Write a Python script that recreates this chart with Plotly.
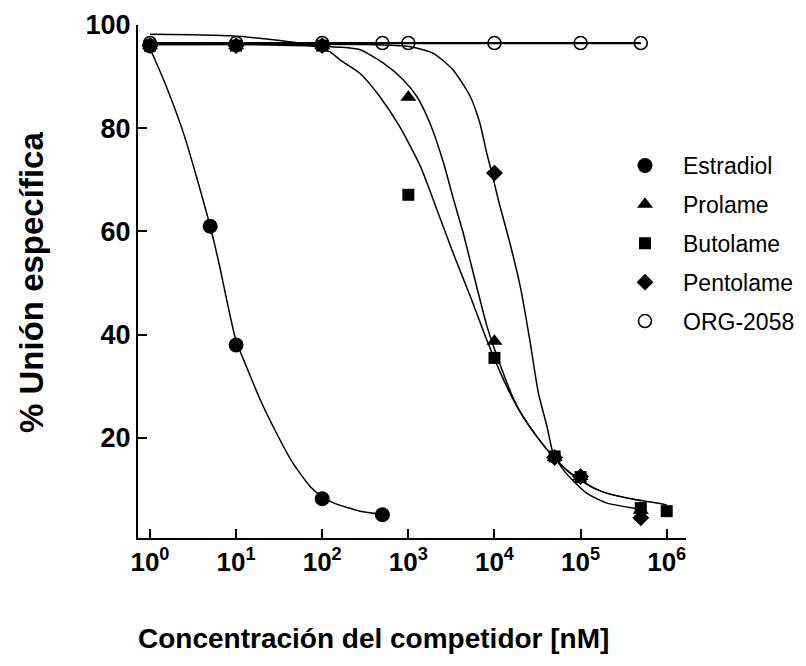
import plotly.graph_objects as go

# ---------------- measured data points ----------------
estradiol_x = [1, 5, 10, 100, 500]
estradiol_y = [96.0, 61.0, 38.0, 8.2, 5.1]

prolame_x = [1, 10, 100, 1000, 10000, 50000, 100000, 500000]
prolame_y = [96.0, 96.0, 96.0, 86.0, 38.7, 16.2, 12.5, 6.0]

butolame_x = [1, 10, 100, 1000, 10000, 50000, 100000, 500000, 1000000]
butolame_y = [96.0, 96.0, 96.0, 67.1, 35.5, 16.4, 12.4, 6.4, 5.8]

pentolame_x = [1, 10, 100, 10000, 50000, 100000, 500000]
pentolame_y = [96.0, 96.0, 96.0, 71.3, 16.2, 12.5, 4.5]

org_x = [1, 10, 100, 500, 1000, 10000, 100000, 500000]
org_y = [96.5, 96.5, 96.5, 96.5, 96.5, 96.5, 96.5, 96.5]

# ---------------- fitted curves (log10 conc., %) ----------------
estradiol_fit_logx = [0.0, 0.19, 0.39, 0.54, 0.70, 0.81, 0.89, 1.0, 1.12, 1.28, 1.47, 1.66, 1.86, 2.0, 2.13, 2.44, 2.69]
estradiol_fit_y = [95.5, 88.1, 79.0, 70.6, 60.9, 53.2, 46.8, 38.8, 33.8, 27.4, 20.9, 15.1, 10.6, 8.6, 7.4, 5.8, 5.2]

butolame_fit_logx = [0.0, 0.5, 0.93, 1.51, 1.78, 2.09, 2.21, 2.44, 2.67, 2.90, 3.14, 3.29, 3.52, 3.72, 3.91,
                     4.07, 4.20, 4.30, 4.49, 4.68, 4.85, 5.0, 5.15, 5.30, 5.65, 5.92, 6.0]
butolame_fit_y = [98.2, 98.1, 97.9, 97.0, 96.4, 94.8, 93.2, 90.6, 86.1, 80.3, 72.6, 66.1, 55.8, 47.4, 39.0,
                  32.6, 28.0, 25.0, 20.3, 16.4, 13.6, 11.8, 10.3, 9.3, 8.0, 7.3, 7.0]

prolame_fit_logx = [0.0, 1.0, 1.8, 2.2, 2.44, 2.71, 2.94, 3.10, 3.25, 3.41, 3.52, 3.64, 3.72, 3.91, 4.03,
                    4.22, 4.30, 4.49, 4.68, 4.85, 5.0, 5.15, 5.30, 5.70]
prolame_fit_y = [96.2, 96.2, 96.0, 95.7, 95.2, 92.6, 89.4, 86.1, 81.0, 73.2, 66.5, 59.5, 54.2, 41.8, 35.8,
                 27.6, 25.0, 20.3, 16.4, 13.6, 11.8, 10.3, 9.3, 7.8]

pentolame_fit_logx = [0.0, 2.5, 3.02, 3.29, 3.52, 3.72, 3.83, 3.91, 3.97, 4.05, 4.18, 4.30, 4.41, 4.51, 4.61,
                      4.68, 4.80, 4.92, 5.07, 5.30, 5.61, 5.70]
pentolame_fit_y = [96.2, 96.2, 95.8, 94.5, 91.3, 86.1, 81.0, 75.2, 71.3, 65.8, 57.7, 49.3, 39.0, 28.7, 22.2,
                   17.1, 13.8, 11.6, 9.3, 7.4, 6.4, 6.2]

org_fit_logx = [0.0, 5.70]
org_fit_y = [96.5, 96.5]

x_tickvals = [1, 10, 100, 1000, 10000, 100000, 1000000]
x_ticktext = ["10<sup>0</sup>", "10<sup>1</sup>", "10<sup>2</sup>", "10<sup>3</sup>",
              "10<sup>4</sup>", "10<sup>5</sup>", "10<sup>6</sup>"]
y_tickvals = [20, 40, 60, 80, 100]

FONT = "Liberation Sans, Arial, sans-serif"

fig = go.Figure()

# fitted curves
for lx, yy, w in [(org_fit_logx, org_fit_y, 2.2),
                  (estradiol_fit_logx, estradiol_fit_y, 1.5),
                  (butolame_fit_logx, butolame_fit_y, 1.5),
                  (prolame_fit_logx, prolame_fit_y, 1.5),
                  (pentolame_fit_logx, pentolame_fit_y, 1.5)]:
    fig.add_trace(go.Scatter(x=[10 ** v for v in lx], y=yy, mode="lines",
                             line=dict(color="black", width=w, shape="spline", smoothing=0.6),
                             showlegend=False, hoverinfo="skip"))

# markers
series = [
    ("ORG-2058", org_x, org_y, dict(symbol="circle-open", size=13, color="black", line=dict(width=1.6, color="black")), 5),
    ("Estradiol", estradiol_x, estradiol_y, dict(symbol="circle", size=15, color="black"), 1),
    ("Prolame", prolame_x, prolame_y, dict(symbol="triangle-up", size=14, color="black"), 2),
    ("Butolame", butolame_x, butolame_y, dict(symbol="square", size=12, color="black"), 3),
    ("Pentolame", pentolame_x, pentolame_y, dict(symbol="diamond", size=13, color="black"), 4),
]
for name, xs, ys, mk, rank in series:
    fig.add_trace(go.Scatter(x=xs, y=ys, mode="markers", name=name, marker=mk,
                             legendgroup=name, legendrank=rank))

# page body has an 8 px margin: work in window pixels and subtract it
OFF = 8
W, H = 806 - OFF, 666 - OFF
PL, PR, PT, PB = 138, 686, 25, 538          # plot area in window pixels
L, T = PL - OFF, PT - OFF
R, B = W - (PR - OFF), H - (PB - OFF)
pw, ph = PR - PL, PB - PT


def px2paper_x(px):
    return (px - PL) / pw


def px2paper_y(py):
    return (PB - py) / ph


fig.update_layout(
    width=W, height=H,
    margin=dict(l=L, r=R, t=T, b=B, autoexpand=False),
    paper_bgcolor="white", plot_bgcolor="white",
    font=dict(family=FONT, color="black"),
    showlegend=True,
    legend=dict(x=px2paper_x(607), y=px2paper_y(144), xanchor="left", yanchor="top",
                font=dict(family=FONT, size=23, color="black"),
                itemwidth=66, tracegroupgap=6, bgcolor="rgba(0,0,0,0)"),
    xaxis=dict(type="log", range=[-0.139, 6.224], tickvals=x_tickvals, ticktext=x_ticktext,
               ticks="inside", ticklen=9, tickwidth=2, tickcolor="black",
               showline=True, linewidth=2, linecolor="black", showgrid=False, zeroline=False,
               tickfont=dict(family=FONT, size=26, color="black", weight="bold")),
    yaxis=dict(range=[0.6, 100], tickvals=y_tickvals,
               ticks="inside", ticklen=9, tickwidth=2, tickcolor="black",
               showline=True, linewidth=2, linecolor="black", showgrid=False, zeroline=False,
               tickfont=dict(family=FONT, size=27, color="black", weight="bold")),
    annotations=[
        dict(text="Concentración del competidor [nM]", xref="paper", yref="paper",
             x=px2paper_x(373), y=px2paper_y(638), xanchor="center", yanchor="middle",
             showarrow=False, font=dict(family=FONT, size=28, color="black", weight="bold")),
        dict(text="% Unión específica", xref="paper", yref="paper",
             x=px2paper_x(31), y=px2paper_y(283), xanchor="center", yanchor="middle",
             textangle=-90, showarrow=False,
             font=dict(family=FONT, size=33, color="black", weight="bold")),
    ],
)

fig.write_html("out.html")
